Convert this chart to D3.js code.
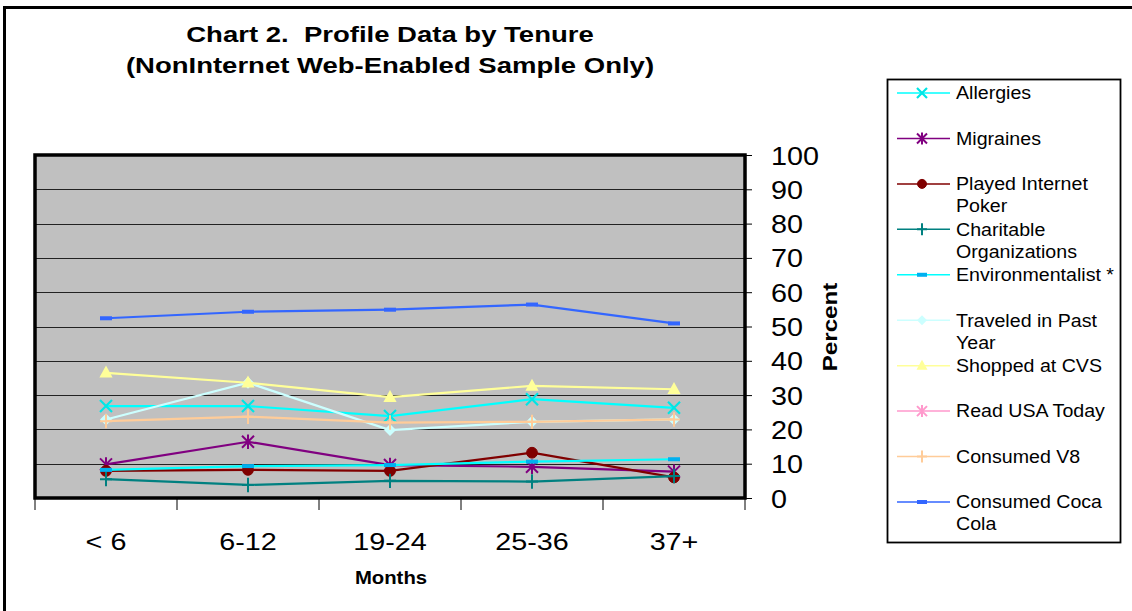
<!DOCTYPE html>
<html>
<head>
<meta charset="utf-8">
<script src="https://cdn.jsdelivr.net/npm/d3@7"></script>
<style>
  html, body { margin: 0; padding: 0; background: #fff; }
  svg { display: block; font-family: "Liberation Sans", Arial, sans-serif; }
</style>
</head>
<body>
<svg id="chart" width="1132" height="611"></svg>
<script>
// Tenure groups (months)
const categories = ["< 6", "6-12", "19-24", "25-36", "37+"];

// Percent of respondents per tenure group
const allergies        = [26.8, 26.8, 23.9, 28.8, 26.3];
const migraines        = [9.8, 16.4, 9.6, 9.1, 7.7];
const playedPoker      = [7.9, 8.2, 7.9, 13.2, 6.0];
const charitableOrgs   = [5.5, 3.8, 5.0, 4.8, 6.4];
const environmentalist = [8.2, 9.3, 9.6, 10.6, 11.3];
const traveledPastYear = [22.9, 33.6, 19.8, 22.2, 22.9];
const shoppedCVS       = [36.5, 33.6, 29.4, 32.7, 31.7];
const readUSAToday     = [null, null, null, null, null];
const consumedV8       = [22.4, 23.7, 22.0, 22.2, 22.9];
const consumedCocaCola = [52.4, 54.3, 54.9, 56.4, 50.9];

const yTicks = [0, 10, 20, 30, 40, 50, 60, 70, 80, 90, 100];

const series = [
  { name: ["Allergies"], values: allergies, color: "#00FFFF", marker: "x", mcolor: "#00E5E5" },
  { name: ["Migraines"], values: migraines, color: "#800080", marker: "star", mcolor: "#800080" },
  { name: ["Played Internet", "Poker"], values: playedPoker, color: "#800000", marker: "circle", mcolor: "#800000" },
  { name: ["Charitable", "Organizations"], values: charitableOrgs, color: "#008080", marker: "plus", mcolor: "#008080" },
  { name: ["Environmentalist *"], values: environmentalist, color: "#00FFFF", marker: "dash", mcolor: "#00B0F0" },
  { name: ["Traveled in Past", "Year"], values: traveledPastYear, color: "#CCFFFF", marker: "diamond", mcolor: "#CCFFFF" },
  { name: ["Shopped at CVS"], values: shoppedCVS, color: "#FFFF99", marker: "triangle", mcolor: "#FFFF99" },
  { name: ["Read USA Today"], values: readUSAToday, color: "#FF99CC", marker: "star", mcolor: "#FF99CC" },
  { name: ["Consumed V8"], values: consumedV8, color: "#FFCC99", marker: "plus", mcolor: "#FFCC99" },
  { name: ["Consumed Coca", "Cola"], values: consumedCocaCola, color: "#3366FF", marker: "dash", mcolor: "#3366FF" }
];

const svg = d3.select("#chart");

// Widen glyphs of a text selection by a horizontal factor
function widen(sel, factor) {
  sel.each(function () {
    const len = this.getComputedTextLength();
    d3.select(this).attr("textLength", len * factor).attr("lengthAdjust", "spacingAndGlyphs");
  });
}

// Outer chart frame
svg.append("rect")
  .attr("x", 4.5).attr("y", 7.5)
  .attr("width", 1140).attr("height", 620)
  .attr("fill", "#fff").attr("stroke", "#000").attr("stroke-width", 3);

// Title
const titleLines = ["Chart 2.\u00A0 Profile Data by Tenure", "(NonInternet Web-Enabled Sample Only)"];
const titles = svg.append("g").selectAll("text")
  .data(titleLines)
  .join("text")
  .attr("x", 390)
  .attr("y", (d, i) => 42 + i * 31)
  .attr("text-anchor", "middle")
  .attr("font-weight", "bold")
  .attr("font-size", 22)
  .text(d => d);
widen(titles, 1.25);

// Scales
const plot = { left: 35, right: 745, top: 155, bottom: 498 };
const x = d3.scaleBand().domain(categories).range([plot.left, plot.right]);
const cx = c => x(c) + x.bandwidth() / 2;
const y = d3.scaleLinear().domain([0, 100]).range([plot.bottom, plot.top]);

// Plot background
svg.append("rect")
  .attr("x", plot.left).attr("y", plot.top)
  .attr("width", plot.right - plot.left).attr("height", plot.bottom - plot.top)
  .attr("fill", "#C0C0C0");

// Horizontal gridlines
svg.append("g")
  .selectAll("line")
  .data(yTicks.filter(t => t > 0 && t < 100))
  .join("line")
  .attr("x1", plot.left).attr("x2", plot.right)
  .attr("y1", d => Math.round(y(d)) + 0.5).attr("y2", d => Math.round(y(d)) + 0.5)
  .attr("stroke", "#222").attr("stroke-width", 1.2);

// Right value axis
const yAxis = svg.append("g")
  .attr("transform", `translate(${plot.right},0)`)
  .call(d3.axisRight(y).tickValues(yTicks).tickSize(7).tickPadding(19).tickFormat(d3.format("d")));
yAxis.select(".domain").remove();
yAxis.selectAll(".tick line").attr("stroke", "#000").attr("stroke-width", 1);
const yLabels = yAxis.selectAll(".tick text")
  .attr("font-size", 25).attr("fill", "#000")
  .attr("font-family", "Liberation Sans, Arial, sans-serif")
  .attr("dy", "0.36em");
widen(yLabels, 1.15);

// Category axis
const xAxis = svg.append("g")
  .attr("transform", `translate(0,${plot.bottom})`)
  .call(d3.axisBottom(x).tickSize(0).tickPadding(36));
xAxis.select(".domain").remove();
const xLabels = xAxis.selectAll(".tick text")
  .attr("font-size", 23).attr("fill", "#000")
  .attr("font-family", "Liberation Sans, Arial, sans-serif");
widen(xLabels, 1.25);

// Category boundary tick marks
const bounds = categories.map(c => x(c)).concat([plot.right]);
svg.append("g")
  .selectAll("line")
  .data(bounds)
  .join("line")
  .attr("x1", d => d).attr("x2", d => d)
  .attr("y1", plot.bottom).attr("y2", plot.bottom + 12)
  .attr("stroke", "#000").attr("stroke-width", 1);

// Plot border
svg.append("rect")
  .attr("x", plot.left).attr("y", plot.top)
  .attr("width", plot.right - plot.left).attr("height", plot.bottom - plot.top)
  .attr("fill", "none").attr("stroke", "#000").attr("stroke-width", 3.5);

// Axis titles
const monthsLabel = svg.append("text")
  .attr("x", 391).attr("y", 584)
  .attr("text-anchor", "middle").attr("font-weight", "bold").attr("font-size", 17.5)
  .text("Months");
widen(monthsLabel, 1.16);
const percentLabel = svg.append("text")
  .attr("transform", "translate(837,327) rotate(-90)")
  .attr("text-anchor", "middle").attr("font-weight", "bold").attr("font-size", 20.5)
  .text("Percent");
widen(percentLabel, 1.18);

// Marker drawing
function drawMarker(g, type, color, size) {
  const s = size;
  switch (type) {
    case "x":
      g.append("path").attr("d", `M${-s},${-s}L${s},${s}M${-s},${s}L${s},${-s}`)
        .attr("stroke", color).attr("stroke-width", 2.2).attr("fill", "none");
      break;
    case "star":
      g.append("path").attr("d", `M${-s},${-s}L${s},${s}M${-s},${s}L${s},${-s}M0,${-s * 1.2}L0,${s * 1.2}`)
        .attr("stroke", color).attr("stroke-width", 2).attr("fill", "none");
      break;
    case "circle":
      g.append("circle").attr("r", s * 0.9).attr("fill", color).attr("stroke", color);
      break;
    case "plus":
      g.append("path").attr("d", `M${-s},0L${s},0M0,${-s * 1.2}L0,${s * 1.2}`)
        .attr("stroke", color).attr("stroke-width", 2).attr("fill", "none");
      break;
    case "dash":
      g.append("rect").attr("x", -s).attr("y", -2).attr("width", 2 * s).attr("height", 4).attr("fill", color);
      break;
    case "diamond":
      g.append("path").attr("d", `M0,${-s}L${s},0L0,${s}L${-s},0Z`).attr("fill", color);
      break;
    case "triangle":
      g.append("path").attr("d", `M0,${-s * 1.2}L${s * 1.1},${s * 0.8}L${-s * 1.1},${s * 0.8}Z`).attr("fill", color);
      break;
  }
}

// Series lines and markers
const line = d3.line()
  .defined(d => d.v != null)
  .x(d => cx(d.c))
  .y(d => y(d.v));

series.forEach(s => {
  const pts = categories.map((c, i) => ({ c, v: s.values[i] }));
  const g = svg.append("g");
  g.append("path")
    .datum(pts)
    .attr("d", line)
    .attr("fill", "none")
    .attr("stroke", s.color)
    .attr("stroke-width", 2.2);
  pts.filter(p => p.v != null).forEach(p => {
    const mg = g.append("g").attr("transform", `translate(${cx(p.c)},${y(p.v)})`);
    drawMarker(mg, s.marker, s.mcolor, 6);
  });
});

// Legend
const legend = svg.append("g");
legend.append("rect")
  .attr("x", 887.5).attr("y", 79.5).attr("width", 233).attr("height", 463)
  .attr("fill", "#fff").attr("stroke", "#000").attr("stroke-width", 1.8);

const legendY = d3.scaleLinear().domain([0, series.length - 1]).range([93, 502]);
series.forEach((s, i) => {
  const ly = legendY(i);
  const item = legend.append("g").attr("transform", `translate(0,${ly})`);
  item.append("line").attr("x1", 897).attr("x2", 950).attr("y1", 0).attr("y2", 0)
    .attr("stroke", s.color).attr("stroke-width", 1.5);
  const mg = item.append("g").attr("transform", "translate(922,0)");
  drawMarker(mg, s.marker, s.mcolor, 5);
  const t = item.append("text").attr("font-size", 17.5).attr("fill", "#000");
  const spans = t.selectAll("tspan")
    .data(s.name)
    .join("tspan")
    .attr("x", 956).attr("y", (d, k) => k * 22).attr("dy", "0.36em")
    .text(d => d);
  widen(spans, 1.12);
});
</script>
</body>
</html>
